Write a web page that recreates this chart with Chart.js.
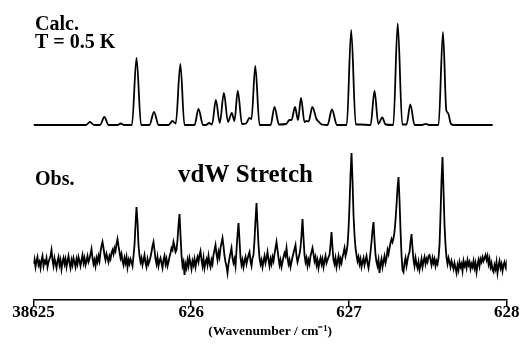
<!DOCTYPE html>
<html><head><meta charset="utf-8">
<script src="https://cdn.jsdelivr.net/npm/chart.js@4/dist/chart.umd.min.js"></script>
<style>html,body{margin:0;padding:0;background:#fff;}canvas{display:block;}</style>
</head><body>
<canvas id="c" width="528" height="347"></canvas>
<script>
// ---- data ----
const WN0 = 38625;
const tickValues = [38625, 38626, 38627, 38628];
const tickLabels = ["38625", "626", "627", "628"];
const axisTitle = "(Wavenumber / cm\u207B\u00B9)";
const noteTexts = ["Calc.", "T = 0.5 K", "Obs.", "vdW Stretch"];

// calculated spectrum trace: wavenumber offset from 38625 and intensity
const calcDx = [0.000,
  0.333, 0.358, 0.384,
  0.422, 0.449, 0.476,
  0.533, 0.553, 0.574,
  0.624, 0.653, 0.682,
  0.735, 0.764, 0.793,
  0.856, 0.881, 0.902, 0.931, 0.957,
  1.021, 1.046, 1.075,
  1.094, 1.113, 1.132,
  1.156, 1.181, 1.207, 1.233, 1.257, 1.274, 1.295, 1.322,
  1.347, 1.369, 1.382, 1.406, 1.433,
  1.503, 1.528, 1.556,
  1.601, 1.623, 1.636, 1.658, 1.677, 1.696, 1.718, 1.732, 1.744, 1.768, 1.794, 1.810, 1.829,
  1.864, 1.892, 1.924,
  1.986, 2.014, 2.043, 2.070,
  2.137, 2.162, 2.186, 2.211, 2.232,
  2.281, 2.309, 2.338,
  2.365, 2.389, 2.416,
  2.463, 2.487, 2.507,
  2.568, 2.596, 2.617, 2.628, 2.647, 2.666,
  2.911];
const calcInt = [0,
  0, 3, 0,
  0, 8, 0,
  0, 1.5, 0,
  0, 67, 0,
  0, 13, 0,
  0, 4, 1.5, 61, 0,
  0, 16, 0,
  0, 2, 0.5,
  25, 2, 32, 3, 12, 4, 34, 1,
  1.5, 7, 6, 59, 0,
  0, 18, 0.5,
  1, 5, 5, 18, 5, 27, 3, 4, 3.5, 18, 6, 3, 0.5,
  0, 15.5, 0,
  0, 95, 0.5, 0.5,
  0, 34, 1, 7.5, 0.5,
  0, 101.5, 0.5,
  0.5, 20.5, 0,
  0, 1.2, 0,
  0, 93, 15, 12, 1, 0,
  0];

// observed spectrum, evenly sampled
const obsStart = 38625.0;
const obsStep = 0.00634;
const obsInt = [
  6, 11, 3, 9, 13, 5, 8, 2, 10, 14, 4, 9, 7, 12, 3, 8, 11, 14, 20, 10,
  4, 12, 7, 2, 9, 13, 5, 10, 1, 8, 12, 6, 11, 3, 9, 14, 7, 2, 10, 5,
  12, 8, 3, 11, 6, 13, 9, 4, 10, 15, 7, 12, 5, 9, 14, 8, 11, 16, 21, 12,
  6, 10, 4, 12, 8, 14, 9, 18, 24, 28, 22, 15, 10, 16, 12, 8, 14, 11, 17, 20,
  16, 22, 19, 26, 31, 24, 18, 12, 16, 9, 5, 12, 7, 13, 3, 10, 6, 11, 8, 4,
  14, 25, 45, 63, 48, 25, 14, 8, 12, 5, 10, 15, 7, 3, 11, 6, 9, 13, 18, 24,
  28, 20, 11, 6, 13, 4, 9, 12, 7, 2, 10, 14, 6, 11, 4, 8, 13, 17, 22, 20,
  28, 24, 18, 20, 30, 45, 56, 35, 15, 4, 8, -5, 6, 2, 10, 4, 12, 7, 1, 9,
  5, 11, 3, 9, 13, 8, 15, 19, 10, 4, 12, 2, 8, 11, 5, 14, 7, 3, 10, 6,
  15, 20, 25, 16, 10, 18, 13, 22, 27, 32, 24, 14, 8, 4, -3, 6, 12, 17, 22, 12,
  7, 11, 4, 20, 35, 47, 30, 12, 5, 10, 3, 9, 13, 6, 11, 15, 18, 9, 4, 12,
  15, 30, 50, 67, 45, 25, 12, 6, 10, 3, 9, 14, 7, 12, 18, 10, 4, 11, 6, 13,
  9, 16, 22, 28, 20, 12, 5, 10, 3, 8, 13, 17, 14, 22, 12, 6, 10, 3, 8, 13,
  17, 21, 25, 14, 8, 12, 16, 22, 35, 51, 32, 15, 8, 12, 4, 10, 6, 14, 18, 22,
  16, 9, 13, 5, 10, 2, 8, 12, 6, 11, 3, 9, 14, 7, 10, 13, 15, 25, 38, 22,
  10, 6, 12, 3, 9, 14, 5, 11, 7, 13, 17, 22, 14, 18, 25, 40, 65, 95, 117, 90,
  55, 35, 22, 15, 9, 13, 6, 11, 3, 8, 12, 5, 10, 14, 7, 2, 9, 18, 28, 40,
  48, 30, 15, 8, 4, 10, -3, 6, 11, 3, 9, 14, 7, 12, 20, 16, 22, 27, 31, 28,
  32, 38, 50, 65, 82, 93, 70, 40, 15, 0, -2, 7, 12, 4, 10, 15, 18, 28, 36, 22,
  10, 4, 12, 6, 2, 8, 0, 5, 11, 3, 9, 13, 6, 11, 8, 14, 15, 10, 5, 12,
  7, 11, 4, 9, 6, 12, 25, 55, 90, 113, 80, 45, 25, 12, 6, 12, 8, 3, 9, 5,
  1, 7, 2, -3, 5, 0, 8, 3, 6, -1, 9, 4, 7, 2, 10, 5, 8, 1, 6, 3,
  9, 2, 7, -2, 5, 10, 4, 11, 8, 13, 9, 12, 15, 10, 14, 6, 11, 3, 7, 0,
  -2, 5, 1, 8, -3, 4, 9, 2, 6, -1, 5, 8, 3, 7, -2, 4, 0, -7];

// ---- drawing ----
const FAMILY = "'Liberation Serif', 'Times New Roman', serif";
const CALC_OFFSET = 175;
const OBS_OFFSET = 30;

const notesPlugin = {
  id: 'notes',
  afterDraw(chart) {
    const c = chart.ctx;
    const pos = [[35, 29.5, 20], [35, 48.3, 20], [35, 185, 20], [178, 182, 25]];
    c.save();
    c.fillStyle = '#000';
    c.textAlign = 'left';
    c.textBaseline = 'alphabetic';
    noteTexts.forEach((t, i) => {
      c.font = `bold ${pos[i][2]}px ${FAMILY}`;
      c.fillText(t, pos[i][0], pos[i][1]);
    });
    c.restore();
  }
};

new Chart(document.getElementById('c').getContext('2d'), {
  type: 'line',
  data: {
    datasets: [
      {
        data: calcDx.map((d, i) => ({ x: WN0 + d, y: calcInt[i] + CALC_OFFSET })),
        borderColor: '#000', borderWidth: 1.8, pointRadius: 0, fill: false,
        cubicInterpolationMode: 'monotone'
      },
      {
        data: obsInt.map((v, i) => ({ x: obsStart + i * obsStep, y: v + OBS_OFFSET })),
        borderColor: '#000', borderWidth: 1.8, pointRadius: 0, fill: false, tension: 0
      }
    ]
  },
  options: {
    responsive: false, animation: false, devicePixelRatio: 1,
    layout: { padding: { left: 33.5, right: 21.3, top: 0, bottom: 0 } },
    plugins: { legend: { display: false }, tooltip: { enabled: false } },
    scales: {
      x: {
        type: 'linear', min: 38625, max: 38628,
        afterFit(s) { s.height = 47; },
        afterBuildTicks(s) { s.ticks = tickValues.map(v => ({ value: v })); },
        ticks: {
          autoSkip: false, maxRotation: 0, padding: -5, color: '#000',
          font: { family: FAMILY, size: 17, weight: 'bold' },
          callback: (v, i) => tickLabels[i]
        },
        grid: { drawOnChartArea: false, drawTicks: true, tickLength: 7, color: '#000', lineWidth: 1.5 },
        border: { display: true, color: '#000', width: 1.5 },
        title: {
          display: true, text: axisTitle, color: '#000',
          font: { family: FAMILY, size: 13.5, weight: 'bold' },
          padding: { top: 0, bottom: 7 }
        }
      },
      y: { display: false, min: 0, max: 300 }
    }
  },
  plugins: [notesPlugin]
});
</script>
</body></html>
